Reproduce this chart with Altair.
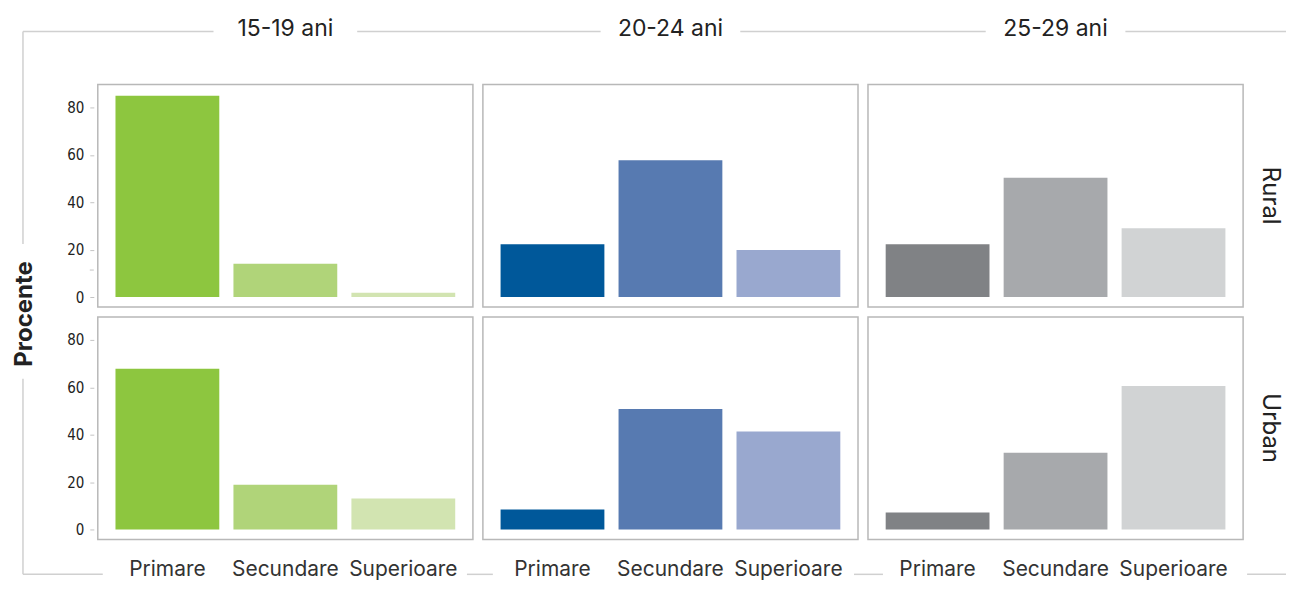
import altair as alt
import pandas as pd

# ---------------- data ----------------
ages = ["15-19 ani", "20-24 ani", "25-29 ani"]
areas = ["Rural", "Urban"]
levels = ["Primare", "Secundare", "Superioare"]

rural_15_19 = [85.0, 14.0, 1.8]
rural_20_24 = [22.3, 57.7, 19.8]
rural_25_29 = [22.3, 50.3, 29.0]
urban_15_19 = [67.8, 18.9, 13.1]
urban_20_24 = [8.4, 50.9, 41.3]
urban_25_29 = [7.2, 32.4, 60.6]

y_ticks = [0, 20, 40, 60, 80]
y_title = "Procente"

series = [
    ("Rural", ages[0], rural_15_19),
    ("Rural", ages[1], rural_20_24),
    ("Rural", ages[2], rural_25_29),
    ("Urban", ages[0], urban_15_19),
    ("Urban", ages[1], urban_20_24),
    ("Urban", ages[2], urban_25_29),
]
rows = []
for area, age, vals in series:
    for lvl, v in zip(levels, vals):
        rows.append({"area": area, "age": age, "level": lvl, "value": v,
                     "key": age + "|" + lvl})
df = pd.DataFrame(rows)

keys = [a + "|" + l for a in ages for l in levels]
palette = ["#8DC63F", "#B0D479", "#D2E4B1",
           "#00589A", "#577AB1", "#99A8CF",
           "#808285", "#A7A9AC", "#D1D3D4"]

# ---------------- style ----------------
FONT = "Inter"
NARROW = "Liberation Sans Narrow, DejaVu Sans Condensed, Roboto"
LINE = "#d0d0d0"
W, H = 376, 223

bars = alt.Chart().mark_bar().encode(
    x=alt.X("level:N", sort=levels,
            scale=alt.Scale(paddingInner=0.12, paddingOuter=0.15),
            axis=alt.Axis(title=None, labelAngle=0, ticks=False, domain=False,
                          labelPadding=19, labelFont=FONT, labelFontSize=21,
                          labelColor="#333333")),
    y=alt.Y("value:Q", scale=alt.Scale(domain=[-4.2, 89.7]),
            axis=alt.Axis(title=None, values=y_ticks, grid=False, domain=False,
                          tickSize=4, tickColor="#c4c4c4", offset=4,
                          labelPadding=6, labelFont=NARROW, labelFontSize=15,
                          labelColor="#222222")),
    color=alt.Color("key:N", scale=alt.Scale(domain=keys, range=palette),
                    legend=None),
)

# decorations drawn once, anchored in the top-left panel
anchor = alt.Chart().transform_filter(
    "datum.area == 'Rural' && datum.age == '15-19 ani' && datum.level == 'Primare'"
)


def hline(x1, x2, y):
    return anchor.mark_rule(color=LINE, strokeWidth=1.5).encode(
        x=alt.value(x1), x2=alt.value(x2), y=alt.value(y))


def vline(x, y1, y2):
    return anchor.mark_rule(color=LINE, strokeWidth=1.5).encode(
        x=alt.value(x), y=alt.value(y1), y2=alt.value(y2))


BOT = 491
RIGHT = 1191
decos = [
    # top line with gaps for column headers
    hline(-75, 116, -53), hline(260, 504, -53), hline(644, 890, -53),
    hline(1030, RIGHT, -53),
    # left line with gap for the y title
    vline(-75, -53, 160), vline(-75, 295, BOT),
    # bottom line with gaps for x labels
    hline(-75, 5, BOT), hline(370, 396, BOT), hline(758, 787, BOT),
    hline(1152, RIGHT, BOT),
    # stray minor tick
    anchor.mark_rule(color="#c4c4c4", strokeWidth=1).encode(
        x=alt.value(-8), x2=alt.value(-4), y=alt.value(186)),
    anchor.mark_text(angle=270, font=FONT, fontSize=24, fontWeight="bold",
                     color="#222222", align="center", baseline="middle").encode(
        x=alt.value(-73), y=alt.value(230), text=alt.value(y_title)),
]

chart = alt.layer(bars, *decos).properties(width=W, height=H).facet(
    data=df,
    row=alt.Row("area:N", sort=areas,
                header=alt.Header(title=None, labelOrient="right", labelAngle=90,
                                  labelFont=FONT, labelFontSize=24,
                                  labelColor="#222222", labelPadding=15)),
    column=alt.Column("age:N", sort=ages,
                      header=alt.Header(title=None, labelFont=FONT, labelFontSize=23,
                                        labelColor="#222222", labelPadding=44)),
    spacing=10,
).properties(
    bounds="flush",
    padding={"left": 4, "top": 9, "right": 2, "bottom": 0},
).configure_view(
    stroke="#b8b8b8", strokeWidth=1.5
)

chart.save("out.html", embed_options={"renderer": "svg", "actions": False})
